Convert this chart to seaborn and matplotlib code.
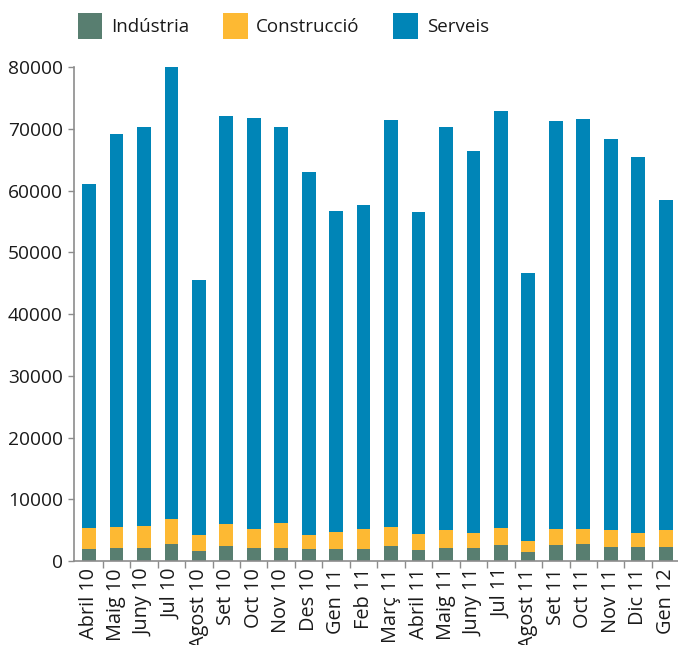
import matplotlib
matplotlib.use("Agg")
import matplotlib.pyplot as plt
import numpy as np
import pandas as pd
import seaborn as sns
from matplotlib.patches import Patch
from matplotlib.ticker import FixedLocator

# monthly values
months = [
    "Abril 10", "Maig 10", "Juny 10", "Jul 10", "Agost 10", "Set 10",
    "Oct 10", "Nov 10", "Des 10", "Gen 11", "Feb 11", "Març 11",
    "Abril 11", "Maig 11", "Juny 11", "Jul 11", "Agost 11", "Set 11",
    "Oct 11", "Nov 11", "Dic 11", "Gen 12",
]
industria = [1900, 2100, 2100, 2750, 1600, 2400, 2100, 2100, 1900, 1900, 1900,
             2400, 1800, 2100, 2100, 2600, 1450, 2600, 2750, 2300, 2300, 2300]
construccio = [3450, 3400, 3600, 4050, 2600, 3600, 3100, 4100, 2300, 2800, 3300,
               3100, 2600, 2900, 2400, 2700, 1750, 2600, 2450, 2700, 2200, 2700]
serveis = [55700, 63600, 64600, 73200, 41300, 66100, 66500, 64100, 58800, 52000, 52400,
           65900, 52100, 65300, 61900, 67600, 43400, 66100, 66400, 63300, 60900, 53500]

series_names = ["Indústria", "Construcció", "Serveis"]
series_colors = ["#587e70", "#fdb933", "#0085b7"]

df = pd.DataFrame({
    "mes": months,
    "ind": industria,
    "cons": construccio,
    "serv": serveis,
})
df["top_cons"] = df["ind"] + df["cons"]
df["total"] = df["top_cons"] + df["serv"]

sns.set_style("white")
plt.rcParams["font.family"] = ["Open Sans", "DejaVu Sans"]
plt.rcParams["text.color"] = "#1a1a1a"
plt.rcParams["xtick.color"] = "#1a1a1a"
plt.rcParams["ytick.color"] = "#1a1a1a"

fig = plt.figure(figsize=(6.78, 6.45), dpi=100)
ax = fig.add_axes([0.109, 0.130, 0.891, 0.766])

# stacked bars: draw cumulative heights from largest to smallest
for col, color in zip(["total", "top_cons", "ind"], series_colors[::-1]):
    sns.barplot(data=df, x="mes", y=col, order=months, color=color,
                width=0.5, saturation=1, linewidth=0, ax=ax, errorbar=None)

ax.set_xlim(-0.55, len(months) - 0.55)
ax.set_ylim(0, 80000)
ax.set_yticks(np.arange(0, 80001, 10000))
ax.set_xlabel("")
ax.set_ylabel("")

for side in ["top", "right"]:
    ax.spines[side].set_visible(False)
for side in ["left", "bottom"]:
    ax.spines[side].set_color("#8c8c8c")
    ax.spines[side].set_linewidth(1.2)

ax.tick_params(axis="y", direction="out", length=4, width=1, color="#8c8c8c",
               labelsize=13.8, pad=4, left=True)
ax.tick_params(axis="x", which="major", length=0, labelsize=14.3, rotation=90, pad=5)
ax.xaxis.set_minor_locator(FixedLocator(np.arange(0.5, len(months) - 1, 1)))
ax.tick_params(axis="x", which="minor", direction="out", length=5, width=1,
               color="#8c8c8c", bottom=True)
for lab in ax.get_xticklabels():
    lab.set_verticalalignment("top")

handles = [Patch(facecolor=c, edgecolor="none") for c in series_colors]
fig.legend(handles, series_names, loc="upper left", bbox_to_anchor=(0.095, 1.0),
           ncol=3, frameon=False, fontsize=13.5, handlelength=1.33, handleheight=1.75,
           handletextpad=0.45, columnspacing=1.8, borderaxespad=0.3)

fig.savefig("out.png", dpi=100)
